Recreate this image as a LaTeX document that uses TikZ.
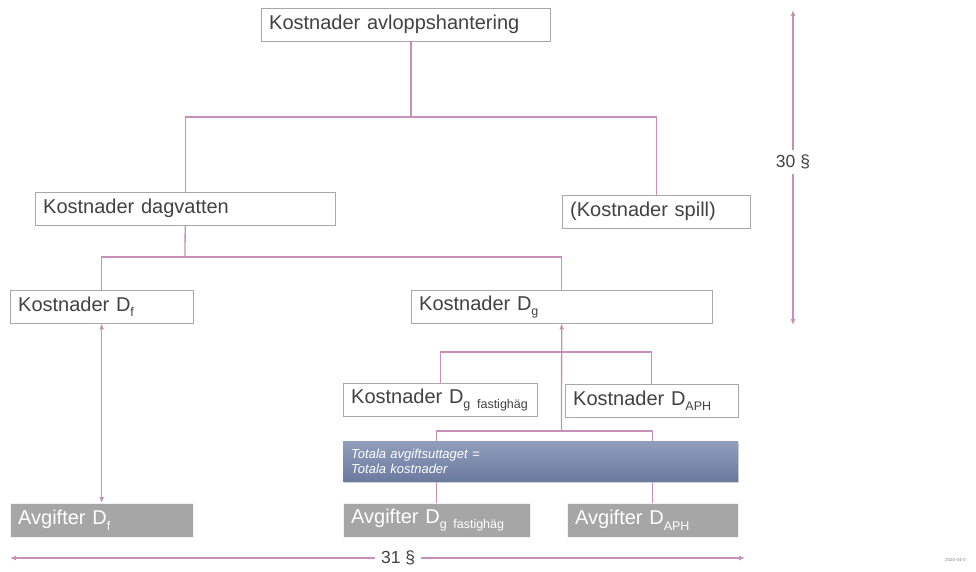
\documentclass[tikz,border=0pt]{standalone}
\usepackage{fontspec}
\setmainfont{Liberation Sans}
\usetikzlibrary{arrows.meta,shadows}
\definecolor{ink}{HTML}{424242}
\definecolor{frame}{HTML}{A8A8A8}
\definecolor{mauve}{HTML}{C890B8}
\definecolor{feegray}{HTML}{A6A6A6}
\definecolor{bluetop}{HTML}{909EBC}
\definecolor{bluebot}{HTML}{6B7BA0}
\newcommand{\dsub}[1]{\raisebox{-0.5ex}{\fontsize{12.5}{13}\selectfont #1}}
\begin{document}
\begin{tikzpicture}[x=1pt,y=-1pt,
    costbox/.style={draw=frame,fill=white,text=ink,anchor=north west,align=left,
      inner xsep=8pt,inner ysep=0pt,minimum height=33pt,font=\fontsize{20}{23}\selectfont},
    feebox/.style={draw=white!85!feegray,fill=feegray,text=white,anchor=north west,align=left,
      inner xsep=8pt,inner ysep=0pt,minimum height=34pt,font=\fontsize{20}{23}\selectfont},
    link/.style={draw=mauve,line width=1.3pt},
    tipped/.style={link,{Latex[length=6pt,width=5pt]}-{Latex[length=6pt,width=5pt]}}]
  \useasboundingbox (0,0) rectangle (976,572);
  % cost tree
  \node[costbox,text width=273pt] (top) at (261,8) {Kostnader avloppshantering};
  \node[costbox,text width=284pt] (dag) at (35,192) {Kostnader dagvatten};
  \node[costbox,text width=172pt] (spill) at (562,195) {(Kostnader spill)};
  \node[costbox,text width=167pt] (df) at (10,290) {Kostnader D\dsub{f}};
  \node[costbox,text width=285pt] (dg) at (411,290) {Kostnader D\dsub{g}};
  \node[costbox,text width=178pt] (fast) at (343,383) {Kostnader D\dsub{g fastighäg}};
  \node[costbox,text width=157pt] (aph) at (565,384) {Kostnader D\dsub{APH}};
  % fees
  \node[feebox,text width=167pt] (avgdf) at (10,503) {Avgifter D\dsub{f}};
  \node[feebox,text width=171pt] (avgfast) at (343,503) {Avgifter D\dsub{g fastighäg}};
  \node[feebox,text width=155pt] (avgaph) at (567,503) {Avgifter D\dsub{APH}};
  % connectors
  \coordinate (j1) at (411,117);
  \coordinate (j2) at (185,257);
  \coordinate (j3) at (561.5,352);
  \coordinate (hub) at (561.5,431);
  \draw[link] (top.south -| j1) -- (j1);
  \draw[link] (dag.north) |- (j1) -| (spill.north);
  \draw[link] (dag.south) -- (j2);
  \draw[link] (df.north) |- (j2) -| (dg.north);
  \draw[link] (fast.north) |- (j3) -| (aph.north);
  \draw[link] (avgfast.north) |- (hub) -| (avgaph.north);
  \draw[link,-{Latex[length=6pt,width=5pt]}] (hub) -- (dg.south);
  \draw[tipped] (df.south) -- (avgdf.north);
  % total box
  \node[anchor=north west,minimum width=395pt,minimum height=40pt,text width=379pt,
    inner xsep=8pt,inner ysep=0pt,align=left,top color=bluetop,bottom color=bluebot,
    drop shadow={opacity=0.35,shadow xshift=1pt,shadow yshift=-2pt},
    text=white,font=\fontsize{13}{15}\selectfont\itshape] (total) at (343,441)
    {Totala avgiftsuttaget =\\Totala kostnader};
  % paragraphs
  \coordinate (p30a) at (793,10);
  \coordinate (p30b) at (793,325);
  \coordinate (p31a) at (10,558);
  \coordinate (p31b) at (745,558);
  \draw[tipped] (p30a) -- node[pos=0.483,fill=white,text=ink,inner sep=5pt,
    font=\fontsize{17.5}{20}\selectfont] (lab30) {30 §} (p30b);
  \draw[tipped] (p31a) -- node[pos=0.528,fill=white,text=ink,inner sep=6pt,
    font=\fontsize{17.5}{20}\selectfont] (lab31) {31 §} (p31b);
  \node[anchor=west,text=gray,inner sep=0pt,font=\fontsize{4.5}{5}\selectfont] (date) at (945,560) {2020-04-0};
\end{tikzpicture}
\end{document}
